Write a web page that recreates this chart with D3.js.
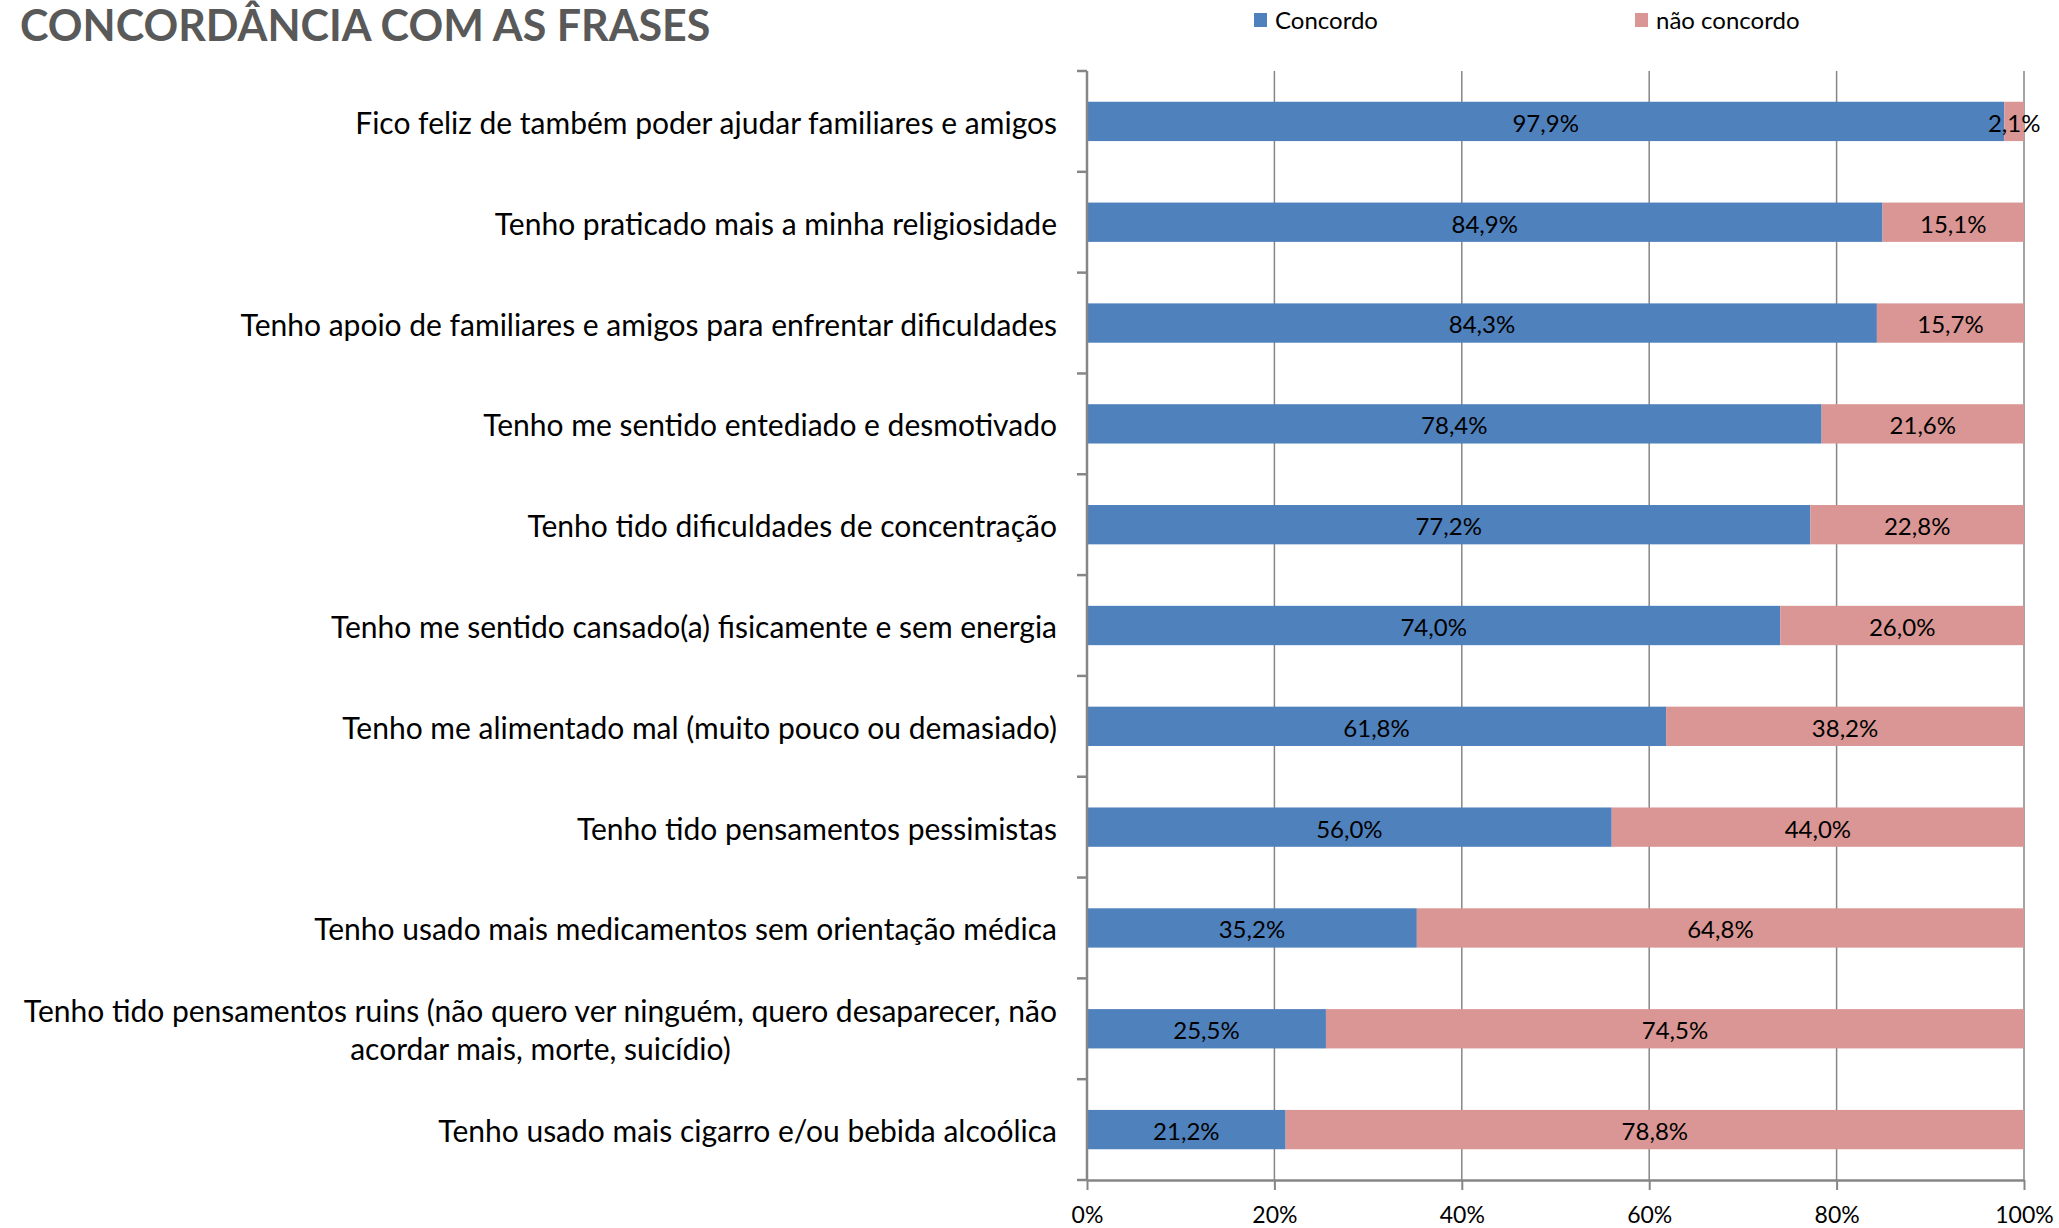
<!DOCTYPE html>
<html>
<head>
<meta charset="utf-8">
<script src="https://cdn.jsdelivr.net/npm/d3@7"></script>
<style>
  body { margin: 0; background: #fff; }
  text { font-family: Lato, "Noto Sans", sans-serif; }
</style>
</head>
<body>
<script>
"use strict";

///// data
var categories = [
  "Fico feliz de também poder ajudar familiares e amigos",
  "Tenho praticado mais a minha religiosidade",
  "Tenho apoio de familiares e amigos para enfrentar dificuldades",
  "Tenho me sentido entediado e desmotivado",
  "Tenho tido dificuldades de concentração",
  "Tenho me sentido cansado(a) fisicamente e sem energia",
  "Tenho me alimentado mal (muito pouco ou demasiado)",
  "Tenho tido pensamentos pessimistas",
  "Tenho usado mais medicamentos sem orientação médica",
  "Tenho tido pensamentos ruins (não quero ver ninguém, quero desaparecer, não|acordar mais, morte, suicídio)",
  "Tenho usado mais cigarro e/ou bebida alcoólica"
];
var concordo    = [97.9, 84.9, 84.3, 78.4, 77.2, 74.0, 61.8, 56.0, 35.2, 25.5, 21.2];
var naoConcordo = [2.1, 15.1, 15.7, 21.6, 22.8, 26.0, 38.2, 44.0, 64.8, 74.5, 78.8];
var seriesNames = ["Concordo", "não concordo"];
var colours = ["#4F81BD", "#D99694"];
var ticks = [0, 20, 40, 60, 80, 100];

var width = 2059, height = 1228;
var pLeft = 1087, pRight = 2024, pTop = 71, pBottom = 1180;

var svg = d3.select("body").append("svg")
  .attr("width", width)
  .attr("height", height);

var x = d3.scaleLinear().domain([0, 100]).range([pLeft, pRight]);
var y = d3.scaleBand().domain(d3.range(categories.length)).range([pTop, pBottom]).paddingInner(0.61).paddingOuter(0.305);
var yb = d3.scaleBand().domain(d3.range(categories.length)).range([pTop, pBottom]);

var fmt = v => d3.format(".1f")(v).replace(".", ",") + "%";

// title
svg.append("text")
  .attr("x", 20).attr("y", 41)
  .style("font-size", "43px").style("font-weight", "bold")
  .attr("fill", "#595959")
  .text("CONCORDÂNCIA COM AS FRASES");

// legend
var legX = [1254, 1635];
seriesNames.forEach((n, i) => {
  svg.append("rect").attr("x", legX[i]).attr("y", 13).attr("width", 13).attr("height", 14).attr("fill", colours[i]);
  svg.append("text").attr("x", legX[i] + 21).attr("y", 29)
    .style("font-size", "24px").attr("fill", "#000").text(n);
});

// grid
svg.append("g").selectAll("line").data(ticks.slice(1)).enter().append("line")
  .attr("x1", d => x(d)).attr("x2", d => x(d))
  .attr("y1", pTop).attr("y2", pBottom)
  .attr("stroke", "#868686").attr("stroke-width", 1.5);

// bars
var stack = categories.map((c, i) => [
  { s: 0, x0: 0, x1: concordo[i], v: concordo[i] },
  { s: 1, x0: concordo[i], x1: 100, v: naoConcordo[i] }
]);

var rows = svg.append("g").selectAll("g").data(stack).enter().append("g");

rows.selectAll("rect").data((d, i) => d.map(e => Object.assign({ i }, e))).enter().append("rect")
  .attr("x", d => x(d.x0))
  .attr("width", d => x(d.x1) - x(d.x0))
  .attr("y", d => y(d.i))
  .attr("height", y.bandwidth())
  .attr("fill", d => colours[d.s]);

rows.selectAll("text").data((d, i) => d.map(e => Object.assign({ i }, e))).enter().append("text")
  .attr("x", d => (x(d.x0) + x(d.x1)) / 2)
  .attr("y", d => y(d.i) + y.bandwidth() / 2 + 2)
  .attr("dy", "0.35em")
  .attr("text-anchor", "middle")
  .style("font-size", "24px")
  .attr("fill", "#000")
  .text(d => fmt(d.v));

// category labels
categories.forEach((c, i) => {
  var lines = c.split("|");
  var cy = y(i) + y.bandwidth() / 2 + 2;
  var t = svg.append("text")
    .attr("y", cy - (lines.length - 1) * 19)
    .style("font-size", "30px").attr("fill", "#000");
  var spans = lines.map((l, k) => t.append("tspan").attr("dy", k === 0 ? "0.35em" : "38px").text(l));
  if (lines.length === 1) {
    t.attr("x", 1057).attr("text-anchor", "end");
  } else {
    var w = d3.max(spans.map(s => s.node().getComputedTextLength()));
    spans.forEach(s => s.attr("x", 1057 - w / 2));
    t.attr("text-anchor", "middle");
  }
});

// axes
var yAxis = svg.append("g");
yAxis.append("line").attr("x1", pLeft).attr("x2", pLeft).attr("y1", pTop).attr("y2", pBottom)
  .attr("stroke", "#868686").attr("stroke-width", 2.5);
yAxis.selectAll("line.t").data(d3.range(categories.length + 1)).enter().append("line")
  .attr("class", "t")
  .attr("x1", pLeft - 10).attr("x2", pLeft)
  .attr("y1", d => d < categories.length ? yb(d) : pBottom)
  .attr("y2", d => d < categories.length ? yb(d) : pBottom)
  .attr("stroke", "#868686").attr("stroke-width", 2.5);

var xAxis = svg.append("g").attr("transform", "translate(0," + pBottom + ")")
  .call(d3.axisBottom(x).tickValues(ticks).tickFormat(d => d + "%").tickSize(10).tickSizeOuter(0));
xAxis.select(".domain").attr("stroke", "#868686").attr("stroke-width", 2.5);
xAxis.selectAll(".tick line").attr("stroke", "#868686").attr("stroke-width", 2);
xAxis.selectAll(".tick text").style("font-size", "23px").attr("fill", "#000").attr("y", 27);
</script>
</body>
</html>
